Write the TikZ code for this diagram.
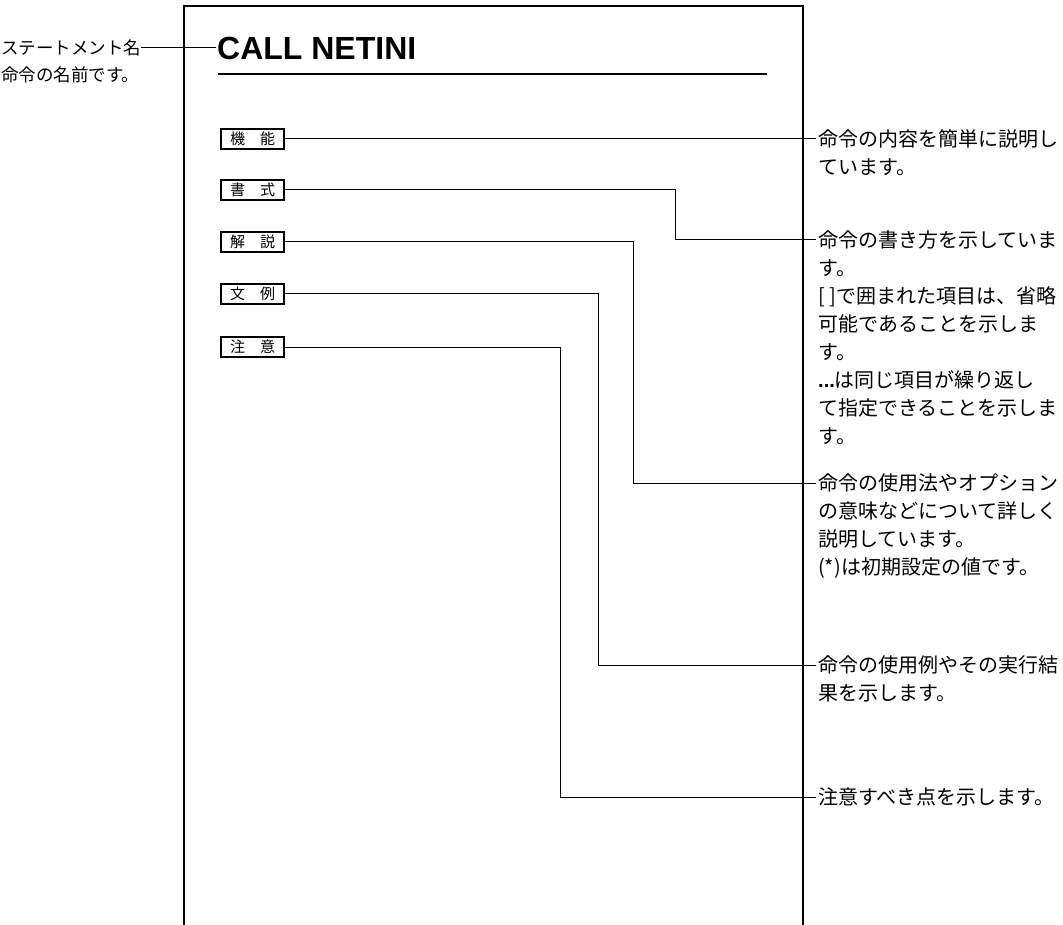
\documentclass[tikz,border=0pt]{standalone}
\usepackage{fontspec}
\newfontfamily\jp{Noto Sans CJK JP}
\newfontfamily\headfont{Liberation Sans}
\usetikzlibrary{positioning}

\begin{document}
\begin{tikzpicture}[
  x=1pt, y=-1pt,
  every node/.style={font=\jp},
  lbl/.style ={draw, line width=1.1pt, minimum width=63pt, minimum height=20pt,
               inner sep=0pt, font=\jp\fontsize{15}{15}\selectfont},
  note/.style={anchor=north west, inner sep=0pt, align=left,
               font=\jp\fontsize{20}{28}\selectfont},
  side/.style={anchor=west, inner sep=0pt, font=\jp\fontsize{17.5}{27}\selectfont},
  conn/.style={line width=1pt}
]
\useasboundingbox (0,0) rectangle (1063,925);

% page frame
\draw[line width=2pt] (184,925) |- (803,6) -- (803,925);

\node[side] (stm)  at (1,48) {ステートメント名};
\node[side] (stmd) at (1,75) {命令の名前です。};
\node[anchor=west, inner sep=1pt, font=\headfont\bfseries\fontsize{32}{32}\selectfont]
  (ttl) at (216,48) {CALL NETINI};
\draw[line width=1.5pt] (218,74) -- (767,74);
\draw[conn] (stm.east) -- (ttl.west);

\node[lbl] (fun) at (252.5,139) {機\quad 能};
\node[lbl] (fmt) at (252.5,190) {書\quad 式};
\node[lbl] (dsc) at (252.5,242) {解\quad 説};
\node[lbl] (smp) at (252.5,294) {文\quad 例};
\node[lbl] (nte) at (252.5,347) {注\quad 意};

\coordinate (funin) at (816,139);
\coordinate (fmtin) at (816,240);
\coordinate (dscin) at (816,483);
\coordinate (smpin) at (816,665);
\coordinate (ntein) at (816,797);

\node[note] (funtxt) at (818,129) {命令の内容を簡単に説明し\\ています。};
\node[note] (fmttxt) at (818,230) {命令の書き方を示していま\\す。\\
  {[}\ {]}で囲まれた項目は、省略\\可能であることを示しま\\す。\\
  {\headfont\bfseries...}は同じ項目が繰り返し\\て指定できることを示しま\\す。};
\node[note] (dsctxt) at (818,473) {命令の使用法やオプション\\の意味などについて詳しく\\
  説明しています。\\(*)は初期設定の値です。};
\node[note] (smptxt) at (818,655) {命令の使用例やその実行結\\果を示します。};
\node[note] (ntetxt) at (818,787) {注意すべき点を示します。};

\draw[conn] (fun) -- (funin);
\draw[conn] (fmt) -| (675,240) -- (fmtin);
\draw[conn] (dsc) -| (633,483) -- (dscin);
\draw[conn] (smp) -| (598,665) -- (smpin);
\draw[conn] (nte) -| (560,797) -- (ntein);
\end{tikzpicture}
\end{document}
